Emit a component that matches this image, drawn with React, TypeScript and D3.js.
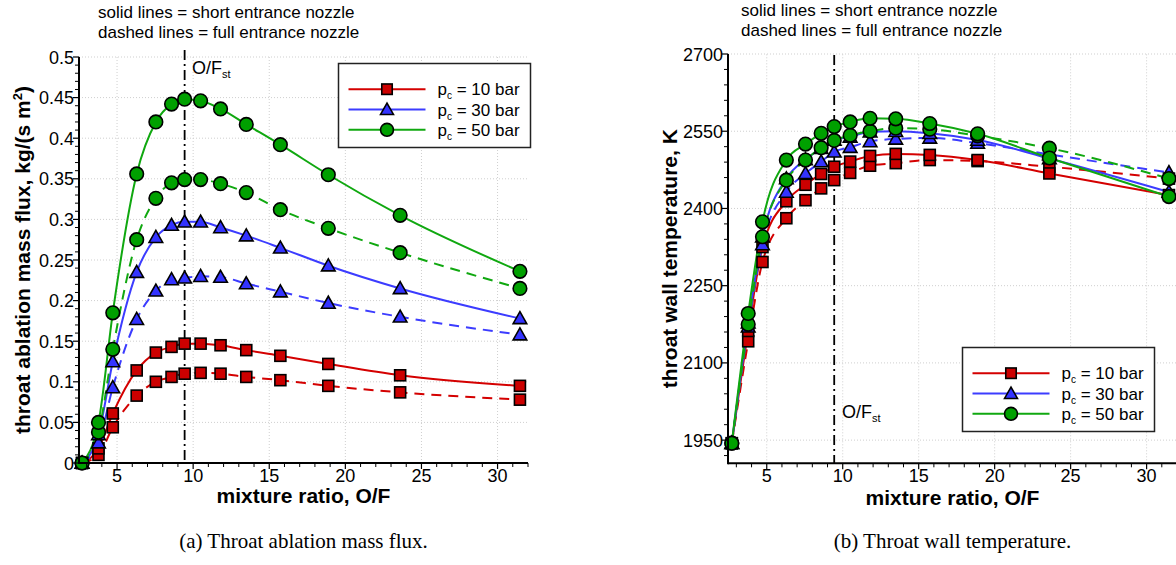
import React from 'react'
import * as d3 from 'd3'

// mixture ratios O/F of the computed cases
const ofRatio = [2.7, 3.78, 4.72, 6.29, 7.55, 8.58, 9.44, 10.49, 11.8, 13.49, 15.73, 18.88, 23.6, 31.47]
const ofStoich = 9.44

// (a) throat ablation mass flux, kg/(s m2)
const flux10Short = [0, 0.018, 0.061, 0.114, 0.136, 0.143, 0.147, 0.147, 0.145, 0.139, 0.132, 0.122, 0.108, 0.095]
const flux10Full = [0, 0.01, 0.044, 0.083, 0.1, 0.106, 0.11, 0.111, 0.11, 0.106, 0.102, 0.095, 0.087, 0.078]
const flux30Short = [0, 0.035, 0.125, 0.235, 0.278, 0.293, 0.297, 0.297, 0.29, 0.28, 0.265, 0.243, 0.215, 0.178]
const flux30Full = [0, 0.025, 0.093, 0.177, 0.212, 0.226, 0.228, 0.23, 0.229, 0.221, 0.211, 0.197, 0.18, 0.158]
const flux50Short = [0, 0.05, 0.185, 0.356, 0.42, 0.442, 0.448, 0.446, 0.436, 0.417, 0.392, 0.355, 0.305, 0.236]
const flux50Full = [0, 0.038, 0.14, 0.275, 0.326, 0.345, 0.349, 0.349, 0.344, 0.333, 0.312, 0.289, 0.259, 0.215]

// (b) throat wall temperature, K
const temp10Short = [1944, 2162, 2325, 2414, 2446, 2467, 2481, 2491, 2502, 2506, 2504, 2494, 2468, 2426]
const temp10Full = [1944, 2142, 2296, 2381, 2416, 2439, 2455, 2469, 2483, 2488, 2494, 2492, 2481, 2458]
const temp30Short = [1944, 2178, 2345, 2458, 2495, 2517, 2533, 2539, 2549, 2550, 2546, 2533, 2497, 2432]
const temp30Full = [1944, 2170, 2330, 2432, 2468, 2491, 2510, 2519, 2530, 2535, 2537, 2527, 2505, 2470]
const temp50Short = [1944, 2196, 2374, 2494, 2525, 2546, 2559, 2568, 2575, 2574, 2565, 2545, 2498, 2423]
const temp50Full = [1944, 2175, 2345, 2455, 2494, 2518, 2532, 2542, 2550, 2556, 2554, 2541, 2517, 2458]

const legendLabels = ['10', '30', '50']
const xTicks = [5, 10, 15, 20, 25, 30]
const fluxTicks = [0, 0.05, 0.1, 0.15, 0.2, 0.25, 0.3, 0.35, 0.4, 0.45, 0.5]
const tempTicks = [1950, 2100, 2250, 2400, 2550, 2700]

const FONT = 'Liberation Sans, Arial, Helvetica, sans-serif'
const lineColors = ['#d40000', '#3c3cff', '#10a810']
const fillColors = ['#cc0000', '#3333ff', '#00a000']
const shapes = ['square', 'triangle', 'circle']

function Marker({ shape, cx, cy, fill, scale = 1 }: any) {
  if (shape === 'square') {
    const s = 11 * scale
    return <rect x={cx - s / 2} y={cy - s / 2} width={s} height={s} fill={fill} stroke="#000" strokeWidth={1.6} />
  }
  if (shape === 'triangle') {
    const w = 6.8 * scale
    const pts = `${cx},${cy - 6.8 * scale} ${cx - w},${cy + 5.2 * scale} ${cx + w},${cy + 5.2 * scale}`
    return <polygon points={pts} fill={fill} stroke="#000" strokeWidth={1.6} strokeLinejoin="miter" />
  }
  return <circle cx={cx} cy={cy} r={6.8 * scale} fill={fill} stroke="#000" strokeWidth={1.6} />
}

function Panel(props: any) {
  const { xRange, xDomain, yDomain, yRange, yMajor, yMinor, fmt, series, legend, title, ofLabel, vTop, ylabel, ylabelX, xlabelY, caption } = props
  const x = d3.scaleLinear().domain(xDomain).range(xRange)
  const y = d3.scaleLinear().domain(yDomain).range(yRange)
  const bottom = yRange[0]
  const left = xRange[0]
  const xMinor = d3.range(3, 33).filter((v) => v % 5 !== 0 && v <= xDomain[1])
  const line = d3
    .line<number>()
    .x((d, i) => x(ofRatio[i]))
    .y((d) => y(d))
    .curve(d3.curveMonotoneX)
  const cx = (xRange[0] + xRange[1]) / 2
  const cy = (yRange[0] + yRange[1]) / 2

  return (
    <g>
      {/* dotted grid */}
      {xTicks.map((t) => (
        <line key={'gx' + t} x1={x(t)} x2={x(t)} y1={bottom} y2={yRange[1]} stroke="#cfcfcf" strokeDasharray="1,2" />
      ))}
      {yMajor.map((t: number) => (
        <line key={'gy' + t} x1={left} x2={xRange[1]} y1={y(t)} y2={y(t)} stroke="#cfcfcf" strokeDasharray="1,2" />
      ))}

      {/* stoichiometric ratio */}
      <line x1={x(ofStoich)} x2={x(ofStoich)} y1={vTop} y2={bottom} stroke="#000" strokeWidth={1.8} strokeDasharray="10,4,2,4" />
      <text x={ofLabel[0]} y={ofLabel[1]} fontFamily={FONT} fontSize={18}>
        O/F<tspan fontSize={11} dy={4}>st</tspan>
      </text>

      {/* curves */}
      {series.map((s: any, i: number) => (
        <path key={'l' + i} d={line(s.values) || ''} fill="none" stroke={lineColors[s.k]} strokeWidth={2} strokeDasharray={s.dashed ? '10,7' : undefined} />
      ))}
      {series.map((s: any, i: number) => (
        <g key={'m' + i}>
          {s.values.map((v: number, j: number) => (
            <Marker key={j} shape={shapes[s.k]} cx={x(ofRatio[j])} cy={y(v)} fill={fillColors[s.k]} />
          ))}
        </g>
      ))}

      {/* axes */}
      <line x1={left} x2={xRange[1]} y1={bottom} y2={bottom} stroke="#000" strokeWidth={2} />
      <line x1={left} x2={left} y1={bottom + 1} y2={yRange[1]} stroke="#000" strokeWidth={2} />
      {xTicks.map((t) => (
        <g key={'xt' + t}>
          <line x1={x(t)} x2={x(t)} y1={bottom} y2={bottom + 6} stroke="#000" strokeWidth={1.2} />
          <text x={x(t)} y={482} textAnchor="middle" fontFamily={FONT} fontSize={18}>
            {t}
          </text>
        </g>
      ))}
      {xMinor.map((t) => (
        <line key={'xm' + t} x1={x(t)} x2={x(t)} y1={bottom} y2={bottom + 4} stroke="#000" strokeWidth={1} />
      ))}
      {yMajor.map((t: number) => (
        <g key={'yt' + t}>
          <line x1={left - 6} x2={left} y1={y(t)} y2={y(t)} stroke="#000" strokeWidth={1.2} />
          <text x={left - 5} y={y(t) + 6.5} textAnchor="end" fontFamily={FONT} fontSize={18}>
            {fmt(t)}
          </text>
        </g>
      ))}
      {yMinor.map((t: number) => (
        <line key={'ym' + t} x1={left - 4} x2={left} y1={y(t)} y2={y(t)} stroke="#000" strokeWidth={1} />
      ))}

      {/* axis titles */}
      <text transform={`translate(${ylabelX},${cy}) rotate(-90)`} textAnchor="middle" fontFamily={FONT} fontSize={21} fontWeight="bold">
        {ylabel}
      </text>
      <text x={cx} y={xlabelY} textAnchor="middle" fontFamily={FONT} fontSize={21} fontWeight="bold">
        mixture ratio, O/F
      </text>

      {/* header notes */}
      <text x={title[0]} y={title[1]} fontFamily={FONT} fontSize={17}>
        solid lines = short entrance nozzle
      </text>
      <text x={title[0]} y={title[2]} fontFamily={FONT} fontSize={17}>
        dashed lines = full entrance nozzle
      </text>

      {/* legend */}
      <rect x={legend[0]} y={legend[1]} width={192} height={84} fill="#fff" stroke="#222" strokeWidth={1.5} />
      {legendLabels.map((p, k) => {
        const ly = legend[1] + 25.7 + k * 20.3
        return (
          <g key={'lg' + k}>
            <line x1={legend[0] + 10} x2={legend[0] + 87} y1={ly} y2={ly} stroke={lineColors[k]} strokeWidth={2} />
            <Marker shape={shapes[k]} cx={legend[0] + 48.5} cy={ly} fill={fillColors[k]} scale={0.95} />
            <text x={legend[0] + 99} y={ly + 6} fontFamily={FONT} fontSize={17}>
              p<tspan fontSize={10} dy={4}>c</tspan>
              <tspan dy={-4}> = {p} bar</tspan>
            </text>
          </g>
        )
      })}

      <text x={cx} y={548} textAnchor="middle" fontFamily="Liberation Serif, Times New Roman, serif" fontSize={21}>
        {caption}
      </text>
    </g>
  )
}

export default function App() {
  const fluxSeries = [
    { values: flux10Full, k: 0, dashed: true },
    { values: flux10Short, k: 0, dashed: false },
    { values: flux30Full, k: 1, dashed: true },
    { values: flux30Short, k: 1, dashed: false },
    { values: flux50Full, k: 2, dashed: true },
    { values: flux50Short, k: 2, dashed: false },
  ]
  const tempSeries = [
    { values: temp10Full, k: 0, dashed: true },
    { values: temp10Short, k: 0, dashed: false },
    { values: temp30Full, k: 1, dashed: true },
    { values: temp30Short, k: 1, dashed: false },
    { values: temp50Full, k: 2, dashed: true },
    { values: temp50Short, k: 2, dashed: false },
  ]
  const fluxMinor = d3.range(0, 51).map((i) => +(i * 0.01).toFixed(2)).filter((v, i) => i % 5 !== 0)
  const tempMinor = d3.range(1920, 2701, 30).filter((v) => (v - 1950) % 150 !== 0)

  return (
    <svg width={1176} height={565} style={{ position: 'absolute', left: 0, top: 0, background: '#fff' }}>
      <rect width={1176} height={565} fill="#fff" />
      <Panel
        xDomain={[2.5, 32]}
        xRange={[79, 528]}
        yDomain={[0, 0.5]}
        yRange={[463, 57]}
        yMajor={fluxTicks}
        yMinor={fluxMinor}
        fmt={(v: number) => String(+v.toFixed(2))}
        series={fluxSeries}
        legend={[338.5, 63.5]}
        title={[98, 18, 37.5]}
        ofLabel={[192, 74]}
        vTop={50}
        ylabel={
          <>
            throat ablation mass flux, kg/(s m<tspan fontSize={13} dy={-8}>2</tspan>
            <tspan dy={8}>)</tspan>
          </>
        }
        ylabelX={30}
        xlabelY={503}
        caption="(a)  Throat ablation mass flux."
      />
      <Panel
        xDomain={[2.45, 32]}
        xRange={[728, 1177]}
        yDomain={[1905, 2700]}
        yRange={[463.3, 54]}
        yMajor={tempTicks}
        yMinor={tempMinor}
        fmt={(v: number) => String(v)}
        series={tempSeries}
        legend={[962.5, 347.5]}
        title={[741, 16, 36]}
        ofLabel={[842, 418]}
        vTop={55}
        ylabel="throat wall temperature, K"
        ylabelX={677}
        xlabelY={505}
        caption="(b)  Throat wall temperature."
      />
    </svg>
  )
}
